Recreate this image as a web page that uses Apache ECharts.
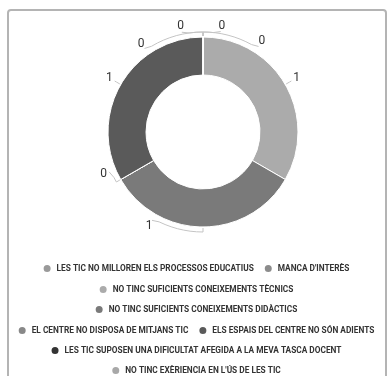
<!DOCTYPE html>
<html>
<head>
<meta charset="utf-8">
<style>
  html, body { margin: 0; padding: 0; background: #fff; }
  #chart { width: 391px; height: 376px; }
</style>
<script src="https://cdn.jsdelivr.net/npm/echarts@6/dist/echarts.min.js"></script>
</head>
<body>
<div id="chart"></div>
<script>
// Reasons given for not using ICT, with number of answers
const categories = [
  "LES TIC NO MILLOREN ELS PROCESSOS EDUCATIUS",
  "MANCA D'INTERÈS",
  "NO TINC SUFICIENTS CONEIXEMENTS TÈCNICS",
  "NO TINC SUFICIENTS CONEIXEMENTS DIDÀCTICS",
  "EL CENTRE NO DISPOSA DE MITJANS TIC",
  "ELS ESPAIS DEL CENTRE NO SÓN ADIENTS",
  "LES TIC SUPOSEN UNA DIFICULTAT AFEGIDA A LA MEVA TASCA DOCENT",
  "NO TINC EXÈRIENCIA EN L'ÚS DE LES TIC"
];
const answers = [0, 0, 1, 1, 0, 1, 0, 0];
const colors = ["#9a9a9a", "#8c8c8c", "#ababab", "#7a7a7a", "#888888", "#5a5a5a", "#333333", "#a8a8a8"];

// legend rows (indices into categories), each row centred on its own
const legendRows = [[0, 1], [2], [3], [4, 5], [6], [7]];
const legendTops = [263, 284, 304, 325, 345, 365];

const CX = 203, CY = 132, R_IN = 57, R_OUT = 95;
const R_LABEL = 108, R_LINE = 100;

const total = answers.reduce((s, v) => s + v, 0);

// angle (degrees, clockwise from 12 o'clock) where each sector sits
function sectorAngle(i) {
  let before = 0;
  for (let k = 0; k < i; k++) before += answers[k];
  return (before + answers[i] / 2) / total * 360;
}

// labels of empty sectors that share one spot are fanned out along the rim;
// the bottom label is slid round a little so it clears the legend
function labelAngle(i) {
  const a = sectorAngle(i);
  if (answers[i] === 0) {
    const same = [];
    answers.forEach((v, k) => { if (v === 0 && Math.abs(sectorAngle(k) - a) < 1e-6) same.push(k); });
    const rank = same.indexOf(i);
    if (a < 180) return a + 10 + rank * 23;          // fan clockwise
    if (a >= 360 - 1e-6) return a - 12 - (same.length - 1 - rank) * 23; // fan anticlockwise
    return a + 7;
  }
  if (Math.abs(a - 180) < 1e-6) return a + 30;
  return a;
}

function polar(r, deg) {
  const t = deg * Math.PI / 180;
  return [CX + r * Math.sin(t), CY - r * Math.cos(t)];
}

const chart = echarts.init(document.getElementById('chart'));

const legends = legendRows.map((row, i) => ({
  data: row.map(k => categories[k]),
  left: 'center',
  top: legendTops[i],
  orient: 'horizontal',
  icon: 'circle',
  itemWidth: 9,
  itemHeight: 9,
  itemGap: 9,
  padding: 0,
  selectedMode: false,
  textStyle: {
    fontFamily: 'Roboto',
    fontWeight: 'bold',
    fontSize: 8.3,
    color: '#333333'
  }
}));

chart.setOption({
  animation: false,
  color: colors,
  graphic: [{
    type: 'rect',
    shape: { x: 8, y: 10, width: 378, height: 380, r: 3 },
    style: { fill: 'none', stroke: '#b4b4b4', lineWidth: 2 },
    silent: true
  }],
  legend: legends,
  series: [{
    type: 'pie',
    center: [CX, CY],
    radius: [R_IN, R_OUT],
    startAngle: 90,
    clockwise: true,
    avoidLabelOverlap: false,
    itemStyle: { borderColor: '#ffffff', borderWidth: 1 },
    label: {
      show: true,
      position: 'outside',
      formatter: '{c}',
      fontFamily: 'Roboto',
      fontSize: 12
    },
    labelLine: {
      show: true,
      length: 6,
      length2: 6,
      smooth: false,
      lineStyle: { width: 1, color: '#c4c4c4' }
    },
    labelLayout: function (p) {
      const i = p.dataIndex;
      const a0 = sectorAngle(i);
      const a1 = labelAngle(i);
      const pos = polar(R_LABEL, a1);
      // leader: out from the rim, then along it towards the label
      const pts = [polar(R_OUT + 1, a0)];
      const span = a1 - a0;
      const stop = span === 0 ? 0 : span - Math.sign(span) * 4;
      const steps = Math.max(1, Math.ceil(Math.abs(stop) / 4));
      for (let s = 0; s <= steps; s++) pts.push(polar(R_LINE, a0 + stop * s / steps));
      pts.push(polar(R_LABEL - 6, a1));
      return {
        x: pos[0],
        y: pos[1],
        align: 'center',
        verticalAlign: 'middle',
        labelLinePoints: pts
      };
    },
    data: categories.map((name, i) => ({ name, value: answers[i] }))
  }]
});
</script>
</body>
</html>
